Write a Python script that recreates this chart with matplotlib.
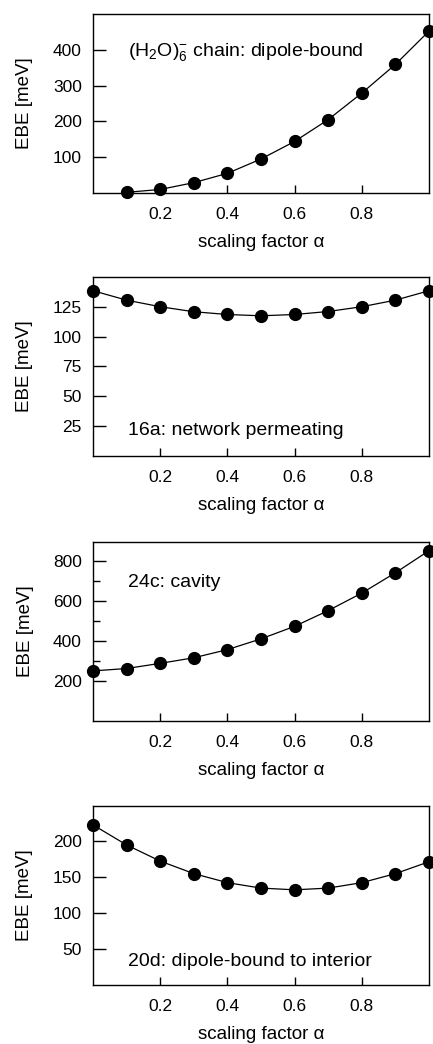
import matplotlib
matplotlib.use("Agg")
import matplotlib.pyplot as plt
from matplotlib.ticker import FixedLocator

plt.rcParams['font.family'] = ['Liberation Sans', 'DejaVu Sans']
plt.rcParams['mathtext.fontset'] = 'custom'
plt.rcParams['mathtext.rm'] = 'Liberation Sans'
plt.rcParams['mathtext.it'] = 'Liberation Sans:italic'

# valores
alpha = [0.0, 0.1, 0.2, 0.3, 0.4, 0.5, 0.6, 0.7, 0.8, 0.9, 1.0]

alpha_chain = alpha[1:]
ebe_chain = [2, 10, 29, 55, 95, 144, 205, 279, 359, 452]
ebe_16a = [138.4, 130.5, 125.0, 120.8, 118.5, 117.4, 118.5, 121.0, 125.0, 130.5, 138.4]
ebe_24c = [250, 262, 288, 316, 357, 411, 474, 553, 641, 743, 854]
ebe_20d = [223, 195, 172.5, 155, 142.4, 134.8, 132.4, 134.8, 142.4, 155, 171.6]

xticks = [0.2, 0.4, 0.6, 0.8]

paineis = [
    (alpha_chain, ebe_chain, r'(H$_2$O)$_6^{-}$ chain: dipole-bound', 0.8151, (0, 500), [100, 200, 300, 400], None, 0.79),
    (alpha, ebe_16a, '16a: network permeating', 0.5632, (0, 150), [25, 50, 75, 100, 125], None, 0.145),
    (alpha, ebe_24c, '24c: cavity', 0.3097, (0, 900), [200, 400, 600, 800], [300, 500, 700], 0.77),
    (alpha, ebe_20d, '20d: dipole-bound to interior', 0.0568, (0, 250), [50, 100, 150, 200], None, 0.128),
]

fig = plt.figure(figsize=(4.33, 10.44), dpi=100)

for x, y, rotulo, base, ylim, yticks, menores, ytexto in paineis:
    ax = fig.add_axes([0.2148, base, 0.776, 0.1716])
    ax.plot(x, y, '-o', color='black', linewidth=0.9, markersize=8.5, clip_on=False, zorder=3)
    ax.set_xlim(0, 1.0)
    ax.set_ylim(*ylim)
    ax.set_xticks(xticks)
    ax.set_xticklabels(['0.2', '0.4', '0.6', '0.8'])
    ax.set_yticks(yticks)
    if menores:
        ax.yaxis.set_minor_locator(FixedLocator(menores))
        ax.tick_params(axis='y', which='minor', direction='in', length=5, width=1)
    ax.tick_params(axis='x', direction='in', length=6, width=1, labelsize=12.5, pad=10)
    ax.tick_params(axis='y', direction='in', length=9, width=1, labelsize=12.5, pad=8)
    for s in ax.spines.values():
        s.set_linewidth(1)
    ax.set_xlabel('scaling factor α', fontsize=13.5, labelpad=9)
    ax.set_ylabel('EBE [meV]', fontsize=13.5, labelpad=14)
    ax.text(0.105, ytexto, rotulo, transform=ax.transAxes, fontsize=14, va='center', ha='left')

fig.savefig('out.png', dpi=100)
plt.close(fig)
